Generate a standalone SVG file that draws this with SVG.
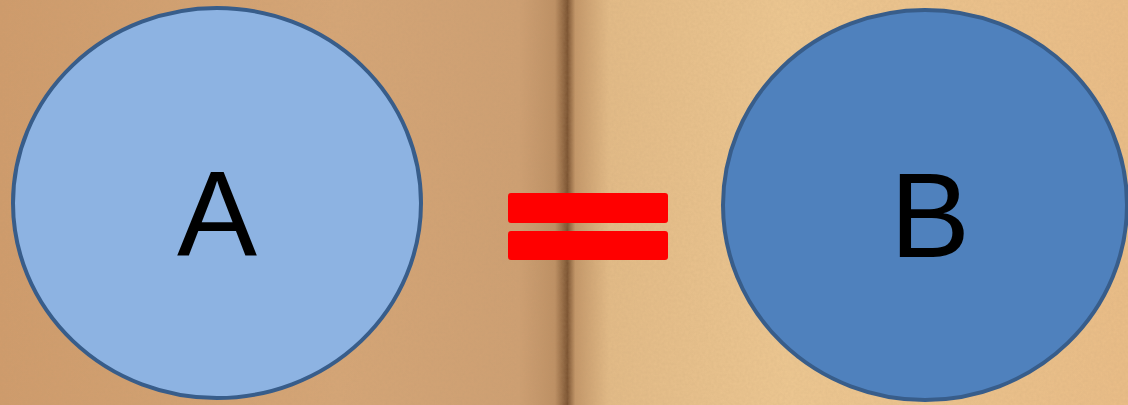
<svg xmlns="http://www.w3.org/2000/svg" width="1128" height="405" viewBox="0 0 1128 405">
<defs>
<linearGradient id="page" x1="0" y1="0" x2="1" y2="0">
<stop offset="0" stop-color="#D09C6C"/>
<stop offset="0.3" stop-color="#D6A677"/>
<stop offset="0.46" stop-color="#CFA073"/>
<stop offset="0.492" stop-color="#BE9064"/>
<stop offset="0.503" stop-color="#7A5230"/>
<stop offset="0.51" stop-color="#C49769"/>
<stop offset="0.54" stop-color="#E4BC88"/>
<stop offset="0.7" stop-color="#EEC892"/>
<stop offset="1" stop-color="#EBBE88"/>
</linearGradient>
<filter id="grain" x="0" y="0" width="100%" height="100%">
<feTurbulence type="fractalNoise" baseFrequency="0.35" numOctaves="2" seed="3"/>
<feColorMatrix type="matrix" values="0 0 0 0 0.45  0 0 0 0 0.3  0 0 0 0 0.15  0 0 0 0.35 0"/>
</filter>
<style>
.node{stroke:#385D8A;stroke-width:4}
.lbl{font-family:"Liberation Sans",Arial,sans-serif;font-size:120px;fill:#000;text-anchor:middle}
.bar{fill:#FF0000}
</style>
</defs>
<rect width="1128" height="405" fill="url(#page)"/>
<rect width="1128" height="405" filter="url(#grain)" opacity="0.5"/>
<g id="nodeA">
<ellipse class="node" cx="217" cy="203" rx="204" ry="195" fill="#8DB3E2"/>
<text class="lbl" x="217" y="255">A</text>
</g>
<g id="equals">
<rect class="bar" x="508" y="193" width="160" height="30" rx="3"/>
<rect class="bar" x="508" y="231" width="160" height="29" rx="3"/>
</g>
<g id="nodeB">
<ellipse class="node" cx="925" cy="205" rx="202" ry="195" fill="#4F81BD"/>
<text class="lbl" x="930" y="257">B</text>
</g>
<g id="connectors"></g>
</svg>
